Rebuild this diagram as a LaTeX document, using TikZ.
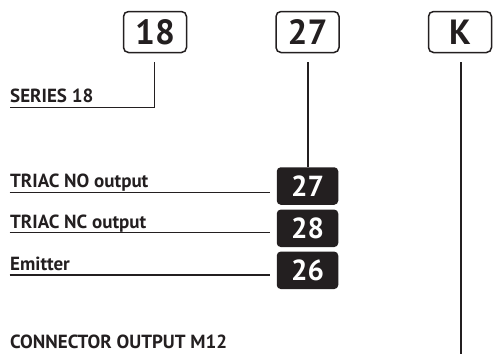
\documentclass[tikz,border=0pt]{standalone}
\usepackage{fontspec}
\setmainfont{PT Sans}
\definecolor{ink}{HTML}{231F20}
\begin{document}
\begin{tikzpicture}[x=1pt,y=-1pt,
  lbl/.style={anchor=base west,inner sep=0pt,text=ink,font=\fontsize{19}{22}\selectfont\bfseries},
  codebox/.style={draw=ink,line width=1.5pt,rounded corners=5pt,minimum width=63pt,minimum height=41pt,inner sep=0pt,text=ink,font=\fontsize{35}{40}\selectfont\bfseries},
  pinbox/.style={fill=ink,rounded corners=4pt,minimum width=61.5pt,minimum height=37.5pt,inner sep=0pt,text=white,font=\fontsize{29}{34}\selectfont\bfseries},
  wire/.style={draw=ink,line width=1.3pt}]
\useasboundingbox (0,0) rectangle (493,354);
% top code boxes
\node[codebox] (b18) at (155,32) {18};
\node[codebox] (b27) at (307.5,32) {27};
\node[codebox] (bK) at (460,32) {K};
% pin boxes
\node[pinbox] (p27) at (307.5,186) {27};
\node[pinbox] (p28) at (307.5,228.3) {28};
\node[pinbox] (p26) at (307.5,270.3) {26};
% labels
\node[lbl] (tseries) at (10,102.7) {SERIES 18};
\node[lbl] (tno) at (10,187.7) {TRIAC NO output};
\node[lbl] (tnc) at (10,228.2) {TRIAC NC output};
\node[lbl] (tem) at (10,270.5) {Emitter};
\node[lbl] (tcon) at (10,348.8) {CONNECTOR OUTPUT M12};
% connector points
\coordinate (s18) at (154.5,62);
\coordinate (e18) at (9.5,107.5);
\coordinate (s27) at (308,62);
\coordinate (sK) at (461,62);
\coordinate (eK) at (461,354);
\coordinate (uno) at (9.5,192.3);
\coordinate (unc) at (9.5,232.7);
\coordinate (uem) at (9.5,275);
% connectors
\draw[wire] (s18) |- (e18);
\draw[wire] (s27) -- (p27.north -| s27);
\draw[wire] (sK) -- (eK);
\draw[wire] (uno) -- ([xshift=-6.7pt]uno -| p27.west);
\draw[wire] (unc) -- ([xshift=-6.7pt]unc -| p28.west);
\draw[wire] (uem) -- ([xshift=-6.7pt]uem -| p26.west);
\end{tikzpicture}
\end{document}
